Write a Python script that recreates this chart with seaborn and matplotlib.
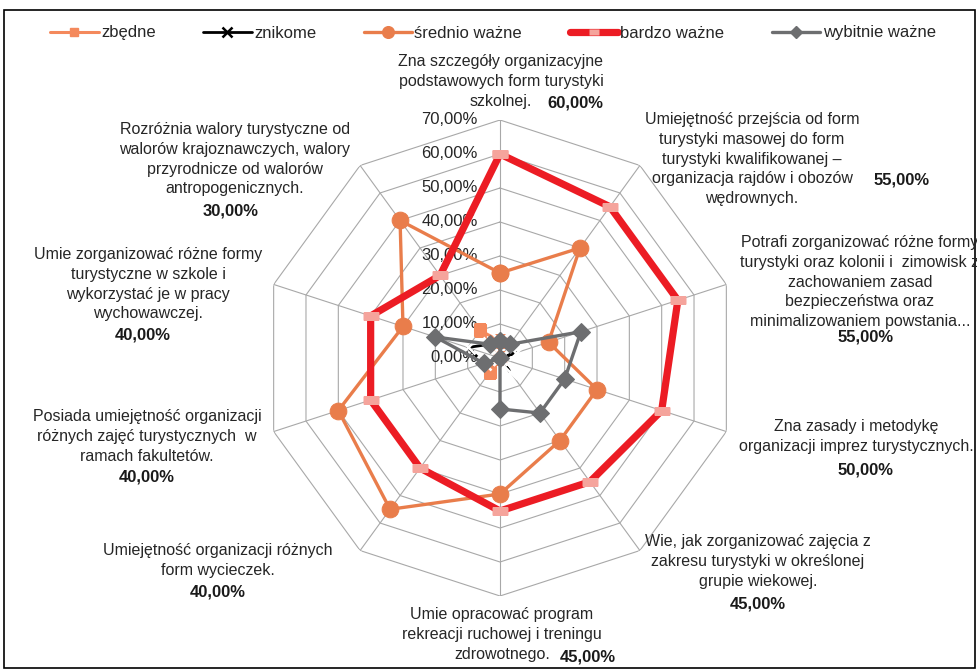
import numpy as np
import matplotlib.pyplot as plt
import matplotlib.patches as mpatches
from matplotlib.lines import Line2D
import seaborn as sns

sns.set_theme(style="white")
plt.rcParams['font.family'] = ['Liberation Sans', 'DejaVu Sans']

# --- data -------------------------------------------------------------
categories = [
    "Zna szczegóły organizacyjne\npodstawowych form turystyki\nszkolnej.",
    "Umiejętność przejścia od form\nturystyki masowej do form\nturystyki kwalifikowanej –\norganizacja rajdów i obozów\nwędrownych.",
    "Potrafi zorganizować różne formy\nturystyki oraz kolonii i  zimowisk z\nzachowaniem zasad\nbezpieczeństwa oraz\nminimalizowaniem powstania...",
    "Zna zasady i metodykę\norganizacji imprez turystycznych.",
    "Wie, jak zorganizować zajęcia z\nzakresu turystyki w określonej\ngrupie wiekowej.",
    "Umie opracować program\nrekreacji ruchowej i treningu\nzdrowotnego.",
    "Umiejętność organizacji różnych\nform wycieczek.",
    "Posiada umiejętność organizacji\nróżnych zajęć turystycznych  w\nramach fakultetów.",
    "Umie zorganizować różne formy\nturystyczne w szkole i\nwykorzystać je w pracy\nwychowawczej.",
    "Rozróżnia walory turystyczne od\nwalorów krajoznawczych, walory\nprzyrodnicze od walorów\nantropogenicznych.",
]
zbedne = [0.05, 0.00, 0.00, 0.00, 0.00, 0.00, 0.05, 0.00, 0.00, 0.10]
znikome = [0.05, 0.00, 0.05, 0.00, 0.05, 0.00, 0.00, 0.05, 0.10, 0.05]
srednio = [0.25, 0.40, 0.15, 0.30, 0.30, 0.40, 0.55, 0.50, 0.30, 0.50]
bardzo = [0.60, 0.55, 0.55, 0.50, 0.45, 0.45, 0.40, 0.40, 0.40, 0.30]
wybitnie = [0.05, 0.05, 0.25, 0.20, 0.20, 0.15, 0.00, 0.05, 0.20, 0.05]
series_names = ["zbędne", "znikome", "średnio ważne", "bardzo ważne", "wybitnie ważne"]
levels = [0.0, 0.1, 0.2, 0.3, 0.4, 0.5, 0.6, 0.7]

# label anchors in pixels (layout only): text centre x, text top y, pct x, pct y
label_pos = [
    (501, 54, 575, 103), (752, 112, 902, 180), (860, 235, 866, 337),
    (856, 419, 866, 470), (758, 534, 758, 604), (502, 607, 588, 657),
    (218, 543, 218, 592), (147, 409, 147, 477), (148, 247, 143, 335),
    (235, 122, 231, 211),
]

W, H = 978, 670
fig = plt.figure(figsize=(W / 100, H / 100), dpi=100)
cx, cy, R = 500, 358, 238
ax = fig.add_axes([(cx - R) / W, (H - cy - R) / H, 2 * R / W, 2 * R / H], projection='polar')
ax.set_theta_zero_location('N')
ax.set_theta_direction(-1)
ax.set_ylim(0, 0.7)
ax.grid(False)
ax.spines['polar'].set_visible(False)
ax.set_xticks([])
ax.set_yticks([])
ax.set_facecolor('none')

n = len(categories)
theta = np.linspace(0, 2 * np.pi, n, endpoint=False)
tc = np.append(theta, theta[0])

grid_col = '#A8A8A8'
for lv in levels[1:]:
    ax.plot(tc, [lv] * (n + 1), color=grid_col, lw=0.8, zorder=1)
for t in theta:
    ax.plot([t, t], [0, 0.7], color=grid_col, lw=0.8, zorder=1)

for lv in levels:
    ax.annotate(f"{lv * 100:.2f}%".replace('.', ','), xy=(0, lv), xytext=(-16, 0),
                textcoords='offset points', ha='right', va='center',
                fontsize=12, color='#262626', zorder=2)

rect_marker = [(-1, -0.55), (1, -0.55), (1, 0.55), (-1, 0.55), (-1, -0.55)]
styles = [
    dict(color='#F4895C', lw=2.2, marker='s', ms=9, mec='#F4895C', mfc='#F4895C'),
    dict(color='black', lw=2.0, marker='x', ms=10, mew=1.8),
    dict(color='#E97D4B', lw=2.4, marker='o', ms=12, mec='#E97D4B', mfc='#E97D4B'),
    dict(color='#EC1C24', lw=5.2, marker=rect_marker, ms=11, mec='none', mfc='#F5A49C'),
    dict(color='#6D6E70', lw=2.4, marker='D', ms=9, mec='#6D6E70', mfc='#6D6E70'),
]
all_series = [zbedne, znikome, srednio, bardzo, wybitnie]
for i, (vals, st) in enumerate(zip(all_series, styles)):
    r = np.append(vals, vals[0])
    sns.lineplot(x=tc, y=r, ax=ax, sort=False, estimator=None, zorder=3 + i, **st)

# category labels + bold values
for name, val, (tx, ty, px, py) in zip(categories, bardzo, label_pos):
    fig.text(tx / W, 1 - ty / H, name, ha='center', va='top', fontsize=11.5,
             color='#262626', linespacing=1.4)
    fig.text(px / W, 1 - py / H, f"{val * 100:.2f}%".replace('.', ','), ha='center',
             va='center', fontsize=12, fontweight='bold', color='#1a1a1a')

handles = []
for st in styles:
    hs = dict(st)
    hs['ms'] = st['ms'] * 0.7
    handles.append(Line2D([], [], **hs))
fig.legend(handles, series_names, loc='center', bbox_to_anchor=(0.5 + 4 / W, 1 - 33 / H), ncol=5,
           frameon=False, fontsize=12, handlelength=2.9, handletextpad=0.15,
           columnspacing=2.85, labelcolor='#262626')

fig.patches.append(mpatches.Rectangle((4 / W, 2 / H), 971 / W, 658 / H, transform=fig.transFigure,
                                      fill=False, ec='black', lw=1.2))

fig.savefig('out.png', dpi=100)
